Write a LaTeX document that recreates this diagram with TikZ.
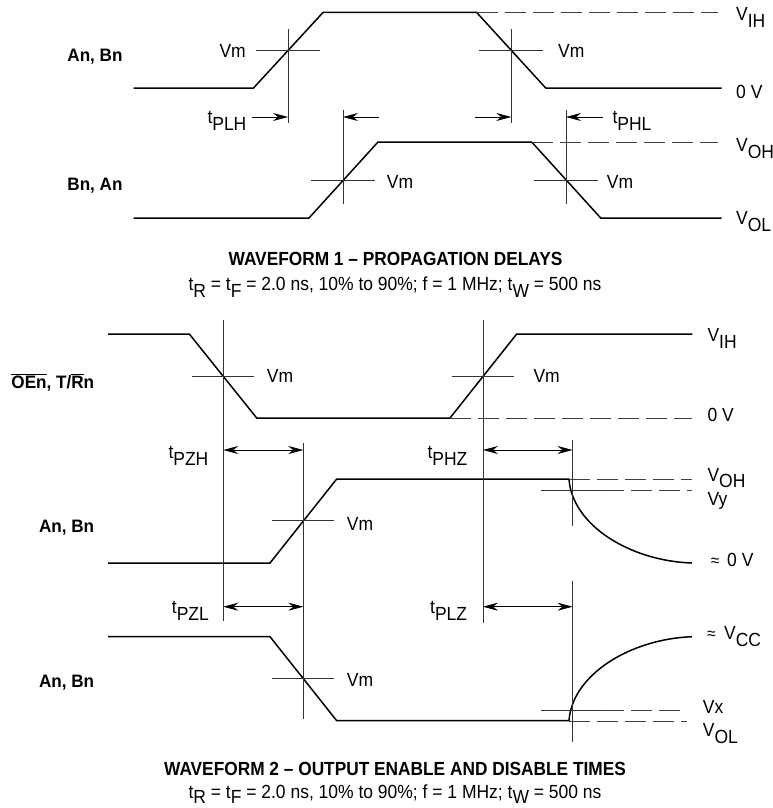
\documentclass[tikz,border=0pt]{standalone}
\usepackage{fontspec}
\setmainfont[FakeStretch=0.92]{Liberation Sans}
\newfontfamily\condfont[FakeStretch=0.92]{Liberation Sans}
\newfontfamily\ttlfont[FakeStretch=0.91]{Liberation Sans}
\newfontfamily\sigfont[FakeStretch=0.95]{Liberation Sans}
\usetikzlibrary{arrows.meta}
\newcommand\dropsub[2]{#1\raisebox{-7pt}{#2}}
\newcommand\lowsub[2]{#1\raisebox{-5.5pt}{#2}}
\newcommand\notbar[1]{$\overline{\hbox{#1}}$}
\newcommand\apx[1]{\makebox[#1][l]{\fontsize{17}{18}\selectfont ≈}}
\tikzset{
  wave/.style={line width=1.5pt,line join=miter},
  thin marker/.style={line width=0.6pt,black!80},
  dashref/.style={line width=0.6pt,black!75,dash pattern=on 21pt off 7pt},
  dim/.style={line width=0.7pt,-{Stealth[length=15pt,width=8pt,inset=5pt]}},
  dimboth/.style={line width=0.7pt,{Stealth[length=15pt,width=8pt,inset=5pt]}-{Stealth[length=15pt,width=8pt,inset=5pt]}},
  lab/.style={anchor=base west,inner sep=0pt,font=\fontsize{19}{22}\selectfont},
  sig/.style={anchor=base east,inner sep=0pt,font=\fontsize{18}{22}\sigfont\bfseries},
  ttl/.style={anchor=base,inner sep=0pt,font=\fontsize{19}{22}\ttlfont\bfseries},
  cond/.style={anchor=base,inner sep=0pt,font=\fontsize{19}{22}\condfont},
}
\begin{document}
\begin{tikzpicture}[x=1pt,y=-1pt]
\useasboundingbox (0,0) rectangle (773,808);
% Waveform 1
\draw[wave] (133.5,88) -- (253.5,88) -- (323,12.5) -- (476.7,12.5) -- (545.7,88) -- (721.7,88);
\draw[wave] (133.5,218) -- (309,218) -- (378,142) -- (531.7,142) -- (600.7,218) -- (721.7,218);
\draw[dashref] (477,12.5) -- (718,12.5);
\draw[dashref] (532,142) -- (718,142);
\foreach \cx in {288,511.3}{
  \draw[thin marker] (\cx-32,50) -- (\cx+32,50);
  \draw[thin marker] (\cx,29) -- (\cx,123);
}
\foreach \cx in {343,566}{
  \draw[thin marker] (\cx-32,180) -- (\cx+32,180);
  \draw[thin marker] (\cx,110) -- (\cx,204);
}
\draw[dim] (252,117) -- (288,117);
\draw[dim] (379,117) -- (343,117);
\draw[dim] (475,117) -- (511.3,117);
\draw[dim] (602.7,117) -- (566,117);
\node[lab] (vm1) at (219.3,58) {Vm};
\node[lab] (vm2) at (558,58) {Vm};
\node[lab] (vm3) at (386.7,188) {Vm};
\node[lab] (vm4) at (606.7,188) {Vm};
\node[lab] (tplh) at (207.3,123) {\dropsub{t}{PLH}};
\node[lab] (tphl) at (612.3,123) {\dropsub{t}{PHL}};
\node[lab] (vih1) at (736,21) {\dropsub{V}{IH}};
\node[lab] (zero1) at (736,98) {0 V};
\node[lab] (voh1) at (736,151) {\dropsub{V}{OH}};
\node[lab] (vol1) at (736,224) {\dropsub{V}{OL}};
\node[sig] (s1) at (122.7,62) {An, Bn};
\node[sig] (s2) at (122.7,190) {Bn, An};
\node[ttl] (t1) at (395.5,265) {WAVEFORM 1 – PROPAGATION DELAYS};
\node[cond] (c1) at (395,290) {\dropsub{t}{R} = \dropsub{t}{F} = 2.0 ns, 10\% to 90\%; f = 1 MHz; \dropsub{t}{W} = 500 ns};
% Waveform 2
\draw[wave] (108,334) -- (189.3,334) -- (256.7,418) -- (450,418) -- (516.7,334) -- (692.3,334);
\draw[wave] (108,563) -- (270,563) -- (336.7,479) -- (569,479) .. controls (572,525) and (630,561) .. (692,563);
\draw[wave] (108,636.7) -- (270,636.7) -- (336.7,720.7) -- (569,720.7) .. controls (572,675) and (630,639) .. (692,636.7);
\draw[dashref] (450,418) -- (692,418);
\draw[dashref] (569,479) -- (692,479);
\draw[thin marker] (541,490) -- (603,490);
\draw[dashref] (603,490.3) -- (692,490.3);
\draw[thin marker] (541,710) -- (603,710);
\draw[dashref] (603,710) -- (687,710);
\draw[dashref] (569,721) -- (687,721);
\draw[thin marker] (223.3,320) -- (223.3,620.7);
\draw[thin marker] (483,320) -- (483,623);
\draw[thin marker] (303.3,443.3) -- (303.3,719);
\draw[thin marker] (572,440) -- (572,526);
\draw[thin marker] (572,580.7) -- (572,741.7);
\draw[thin marker] (192.3,376) -- (254.3,376);
\draw[thin marker] (452,376) -- (514,376);
\draw[thin marker] (272.3,520.7) -- (334,520.7);
\draw[thin marker] (272.3,678.7) -- (334,678.7);
\draw[dimboth] (223.3,450) -- (303.3,450);
\draw[dimboth] (483,450) -- (572.5,450);
\draw[dimboth] (223.3,606.7) -- (303.3,606.7);
\draw[dimboth] (483,606.7) -- (572.5,606.7);
\node[lab] (vm5) at (266.7,382.7) {Vm};
\node[lab] (vm6) at (533.3,382.7) {Vm};
\node[lab] (vm7) at (346.7,530.7) {Vm};
\node[lab] (vm8) at (346.7,686) {Vm};
\node[lab] (tpzh) at (168.3,458) {\dropsub{t}{PZH}};
\node[lab] (tphz) at (427.3,458) {\dropsub{t}{PHZ}};
\node[lab] (tpzl) at (171.7,613) {\dropsub{t}{PZL}};
\node[lab] (tplz) at (430,613) {\dropsub{t}{PLZ}};
\node[lab] (vih2) at (707.3,341.7) {\dropsub{V}{IH}};
\node[lab] (zero2) at (707.3,421.7) {0 V};
\node[lab] (voh2) at (707.3,481.7) {\lowsub{V}{OH}};
\node[lab] (vy) at (707.3,505) {Vy};
\node[lab] (azero) at (710.7,566) {\apx{16.3pt}0 V};
\node[lab] (avcc) at (707,639) {\apx{17pt}\dropsub{V}{CC}};
\node[lab] (vx) at (702.7,713) {Vx};
\node[lab] (vol2) at (702.7,736.7) {\dropsub{V}{OL}};
\node[sig] (s3) at (94.3,388) {\notbar{OEn}, T/\notbar{R}n};
\node[sig] (s4) at (94.3,532) {An, Bn};
\node[sig] (s5) at (94.3,687.7) {An, Bn};
\node[ttl] (t2) at (395,775.7) {WAVEFORM 2 – OUTPUT ENABLE AND DISABLE TIMES};
\node[cond] (c2) at (395,798) {\lowsub{t}{R} = \lowsub{t}{F} = 2.0 ns, 10\% to 90\%; f = 1 MHz; \lowsub{t}{W} = 500 ns};
\end{tikzpicture}
\end{document}
